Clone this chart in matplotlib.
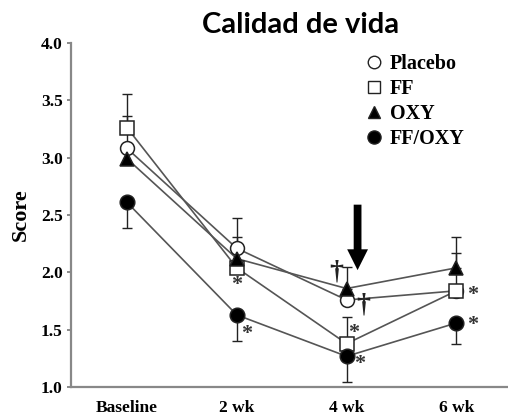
import numpy as np
import matplotlib.pyplot as plt
from matplotlib.lines import Line2D

weeks = ["Baseline", "2 wk", "4 wk", "6 wk"]
x = np.arange(len(weeks))

placebo = [3.08, 2.21, 1.76, 1.84]
ff = [3.26, 2.04, 1.38, 1.84]
oxy = [2.99, 2.12, 1.86, 2.04]
ff_oxy = [2.61, 1.63, 1.27, 1.56]

# one-sided error bars (0 = not drawn)
placebo_up = [0.28, 0.26, 0.0, 0.0]
ff_up = [0.29, 0.27, 0.23, 0.33]
oxy_up = [0.0, 0.0, 0.19, 0.27]
ff_oxy_lo = [0.22, 0.23, 0.22, 0.18]

stars = [(1.0, 1.92), (1.09, 1.49), (2.06, 1.50), (2.12, 1.23), (3.15, 1.83), (3.15, 1.57)]
daggers = [(1.91, 2.00), (2.15, 1.72)]
arrow_x, arrow_top, arrow_tip = 2.1, 2.59, 2.02

serif = "Liberation Serif"
line_col = "#555555"
edge_col = "#222222"

fig = plt.figure(figsize=(5.08, 4.16), dpi=100)
ax = fig.add_axes([71/508, 1-387.3/416, 1-71/508, (387.3-42.7)/416])

series = [
    (placebo, "o", "white", 10, "Placebo"),
    (ff, "s", "white", 9.5, "FF"),
    (oxy, "^", "black", 10, "OXY"),
    (ff_oxy, "o", "black", 10.5, "FF/OXY"),
]

def err(vals, lo, up):
    idx = [i for i in range(len(vals)) if lo[i] > 0 or up[i] > 0]
    if not idx:
        return
    ax.errorbar(x[idx], np.array(vals)[idx],
                yerr=[np.array(lo)[idx], np.array(up)[idx]],
                fmt="none", ecolor=edge_col, elinewidth=1.0, capsize=3.5, capthick=1.0, zorder=2)

zero = [0, 0, 0, 0]
err(placebo, zero, placebo_up)
err(ff, zero, ff_up)
err(oxy, zero, oxy_up)
err(ff_oxy, ff_oxy_lo, zero)

for vals, m, fc, ms, lab in series:
    ax.plot(x, vals, color=line_col, lw=1.2, zorder=3)
for vals, m, fc, ms, lab in series:
    ax.plot(x, vals, ls="none", marker=m, ms=ms, mfc=fc, mec=edge_col, mew=1.1, zorder=4)

for sx, sy in stars:
    ax.text(sx, sy - 0.03, "*", family=serif, fontsize=16, fontweight="bold", ha="center", va="center", color="#333333")
for dx, dy in daggers:
    ax.text(dx, dy, "\u2020", family=serif, fontsize=20, fontweight="bold", ha="center", va="center", color="#222222")

ax.annotate("", xy=(arrow_x, arrow_tip), xytext=(arrow_x, arrow_top),
            arrowprops=dict(arrowstyle="simple,head_width=0.75,head_length=0.75,tail_width=0.28",
                            mutation_scale=20, color="black", lw=0, shrinkA=0, shrinkB=0))

ax.set_xlim(-0.51, 3.47)
ax.set_ylim(1.0, 4.0)
ax.set_yticks(np.arange(1.0, 4.01, 0.5))
ax.set_yticklabels([f"{v:.1f}" for v in np.arange(1.0, 4.01, 0.5)], family=serif, fontsize=12.5, fontweight="bold")
ax.set_xticks(x)
ax.set_xticklabels(weeks, family=serif, fontsize=12.5, fontweight="bold")
ax.tick_params(axis="x", length=0, pad=9)
ax.tick_params(axis="y", length=3, width=1.2, color="#777777", pad=3)
for s in ["top", "right"]:
    ax.spines[s].set_visible(False)
for s in ["left", "bottom"]:
    ax.spines[s].set_color("#888888")
    ax.spines[s].set_linewidth(1.6)

ax.set_ylabel("Score", family=serif, fontsize=16, fontweight="bold", labelpad=7)

handles = [Line2D([], [], ls="none", marker=m, ms=ms * 0.9, mfc=fc, mec=edge_col, mew=1.0)
           for vals, m, fc, ms, lab in series]
ax.legend(handles, [s[4] for s in series], loc="upper left", bbox_to_anchor=(366/508, 1-54/416),
          bbox_transform=fig.transFigure, frameon=False, handlelength=0.8, handletextpad=0.4,
          labelspacing=0.25, borderpad=0, borderaxespad=0,
          prop=dict(family=serif, size=14.5, weight="bold"))

fig.text(301/508, 1-25/416, "Calidad de vida", family="Lato", fontsize=21, fontweight="bold",
         ha="center", va="center")

fig.savefig("out.png", dpi=100)
